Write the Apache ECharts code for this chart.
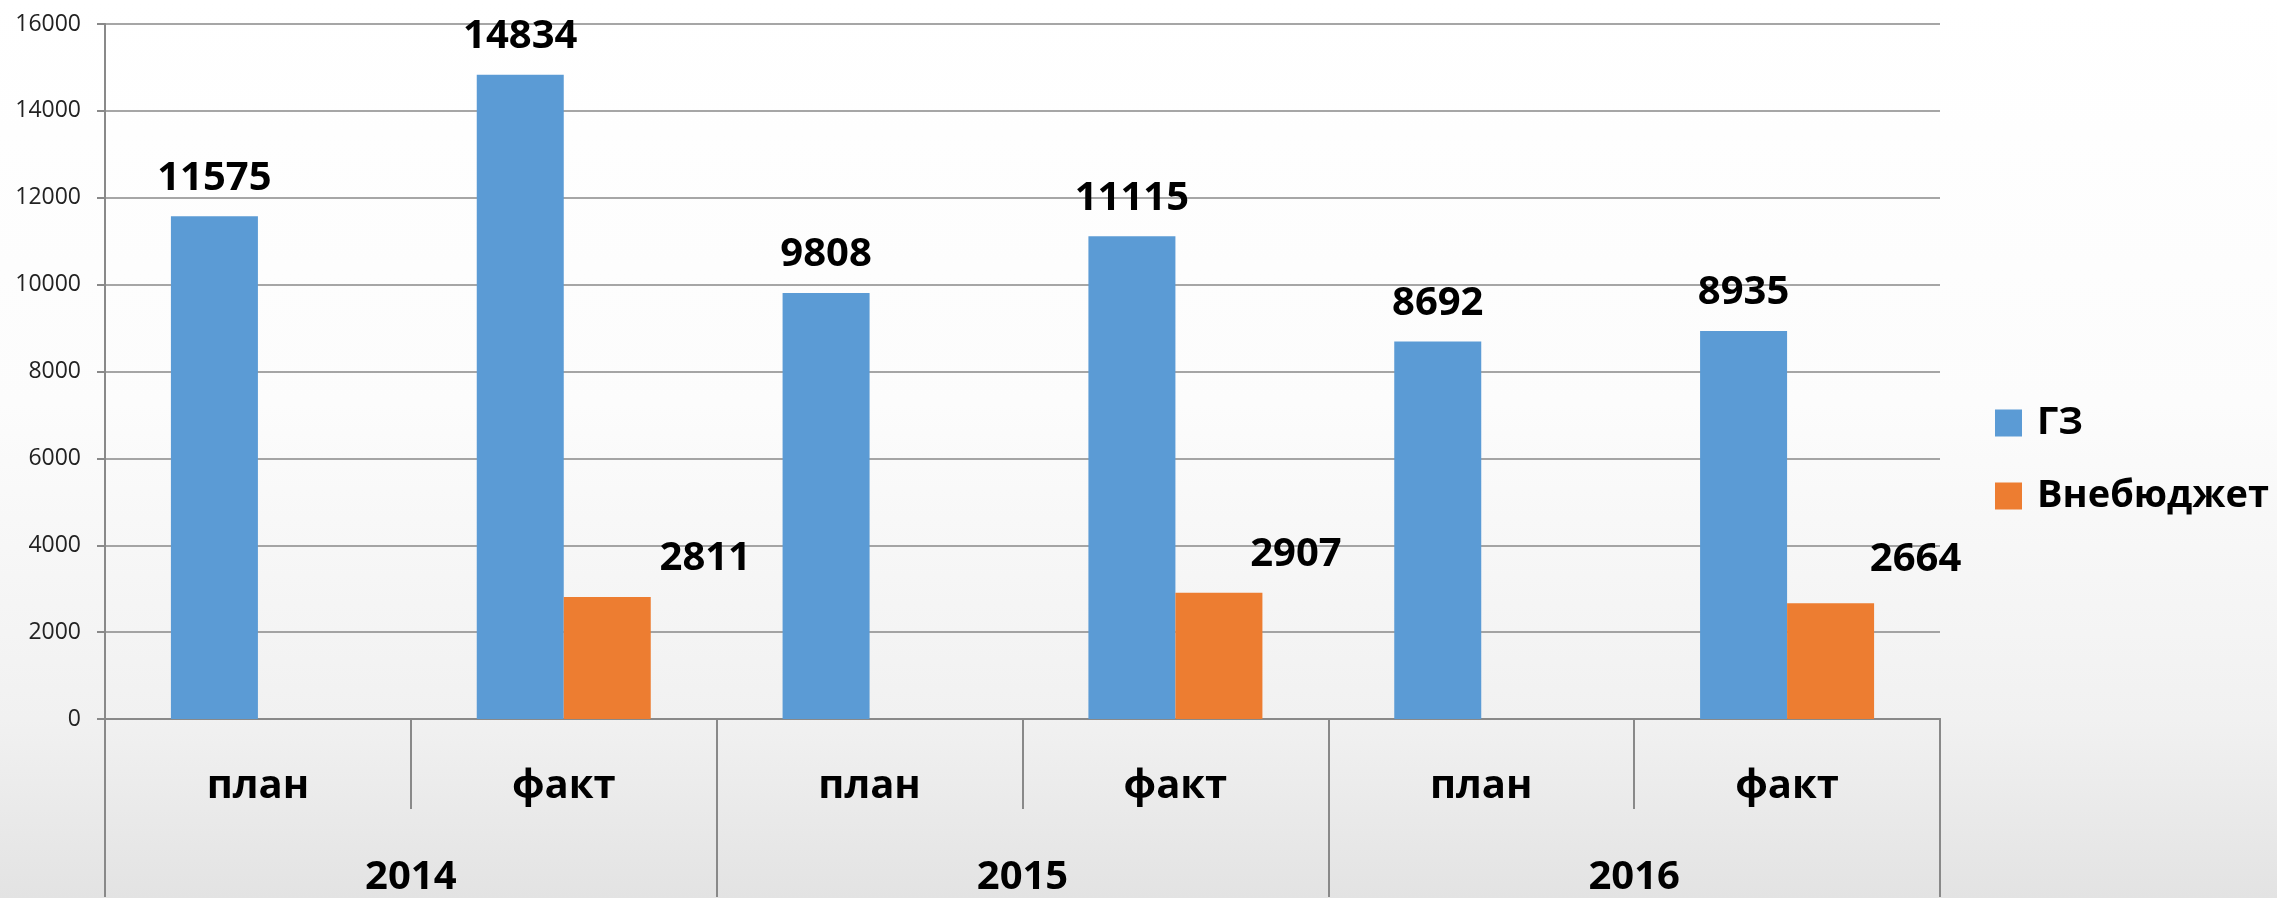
<!DOCTYPE html>
<html>
<head>
<meta charset="utf-8">
<script src="https://cdn.jsdelivr.net/npm/echarts@6/dist/echarts.min.js"></script>
<style>
  html, body { margin: 0; padding: 0; }
  body {
    width: 2277px; height: 898px;
    background: linear-gradient(to bottom, #ffffff 0%, #fcfcfc 45%, #f1f1f1 80%, #e3e3e3 100%);
  }
  #chart { width: 2277px; height: 898px; }
</style>
</head>
<body>
<div id="chart"></div>
<script>
// ---- data ----
const subCategories = ['план', 'факт', 'план', 'факт', 'план', 'факт'];
const years = ['2014', '2015', '2016'];
const seriesNames = ['ГЗ', 'Внебюджет'];
const gzValues = [11575, 14834, 9808, 11115, 8692, 8935];
const vnebValues = [null, 2811, null, 2907, null, 2664];
const yTicks = { min: 0, max: 16000, interval: 2000 };

// ---- layout / style (not data) ----
const vnebLabelShift = [null, [98, 0], null, [77, 0], null, [85, -6]];
const lineGray = '#898989';
const boldFont = '"Open Sans", "DejaVu Sans", sans-serif';

const chart = echarts.init(document.getElementById('chart'), null, { renderer: 'canvas' });

const vnebData = vnebValues.map((v, i) => {
  if (v === null) return null;
  return { value: v, label: { offset: vnebLabelShift[i] } };
});

const option = {
  backgroundColor: 'transparent',
  animation: false,
  grid: { left: 105, right: 337, top: 24, bottom: 178, containLabel: false },
  legend: {
    orient: 'vertical',
    left: 1990,
    top: 395,
    itemWidth: 27,
    itemHeight: 27,
    itemGap: 27,
    icon: 'rect',
    data: seriesNames,
    textStyle: {
      fontFamily: boldFont, fontWeight: 'bold', fontSize: 38, lineHeight: 46,
      color: '#000', padding: [0, 0, 0, 10]
    }
  },
  xAxis: [
    {
      type: 'category',
      data: subCategories,
      position: 'bottom',
      axisLine: { show: true, lineStyle: { color: lineGray, width: 2 } },
      axisTick: { show: true, interval: 0, length: 90, lineStyle: { color: lineGray, width: 2 } },
      axisLabel: {
        interval: 0, margin: 48,
        fontFamily: boldFont, fontWeight: 'bold', fontSize: 40, color: '#000'
      },
      splitLine: { show: false }
    },
    {
      type: 'category',
      data: years,
      position: 'bottom',
      axisLine: { show: true, lineStyle: { color: lineGray, width: 2 } },
      axisTick: { show: true, interval: 0, length: 178, lineStyle: { color: lineGray, width: 2 } },
      axisLabel: {
        interval: 0, margin: 139,
        fontFamily: boldFont, fontWeight: 'bold', fontSize: 40, color: '#000'
      },
      splitLine: { show: false }
    }
  ],
  yAxis: {
    type: 'value',
    min: yTicks.min,
    max: yTicks.max,
    interval: yTicks.interval,
    axisLine: { show: true, lineStyle: { color: lineGray, width: 2 } },
    axisTick: { show: true, length: 8, lineStyle: { color: lineGray, width: 2 } },
    axisLabel: {
      margin: 24, fontFamily: '"Open Sans", sans-serif', fontSize: 23, color: '#222',
      formatter: (v) => String(v)
    },
    splitLine: { show: true, lineStyle: { color: lineGray, width: 1.5 } }
  },
  series: [
    {
      name: seriesNames[0],
      type: 'bar',
      xAxisIndex: 0,
      data: gzValues,
      barWidth: 87,
      barGap: '0%',
      itemStyle: { color: '#5B9BD5' },
      label: {
        show: true, position: 'top', distance: 18,
        fontFamily: boldFont, fontWeight: 'bold', fontSize: 40, color: '#000'
      }
    },
    {
      name: seriesNames[1],
      type: 'bar',
      xAxisIndex: 0,
      data: vnebData,
      barWidth: 87,
      barGap: '0%',
      itemStyle: { color: '#ED7D31' },
      label: {
        show: true, position: 'top', distance: 18,
        fontFamily: boldFont, fontWeight: 'bold', fontSize: 40, color: '#000'
      }
    }
  ]
};

chart.setOption(option);
</script>
</body>
</html>
